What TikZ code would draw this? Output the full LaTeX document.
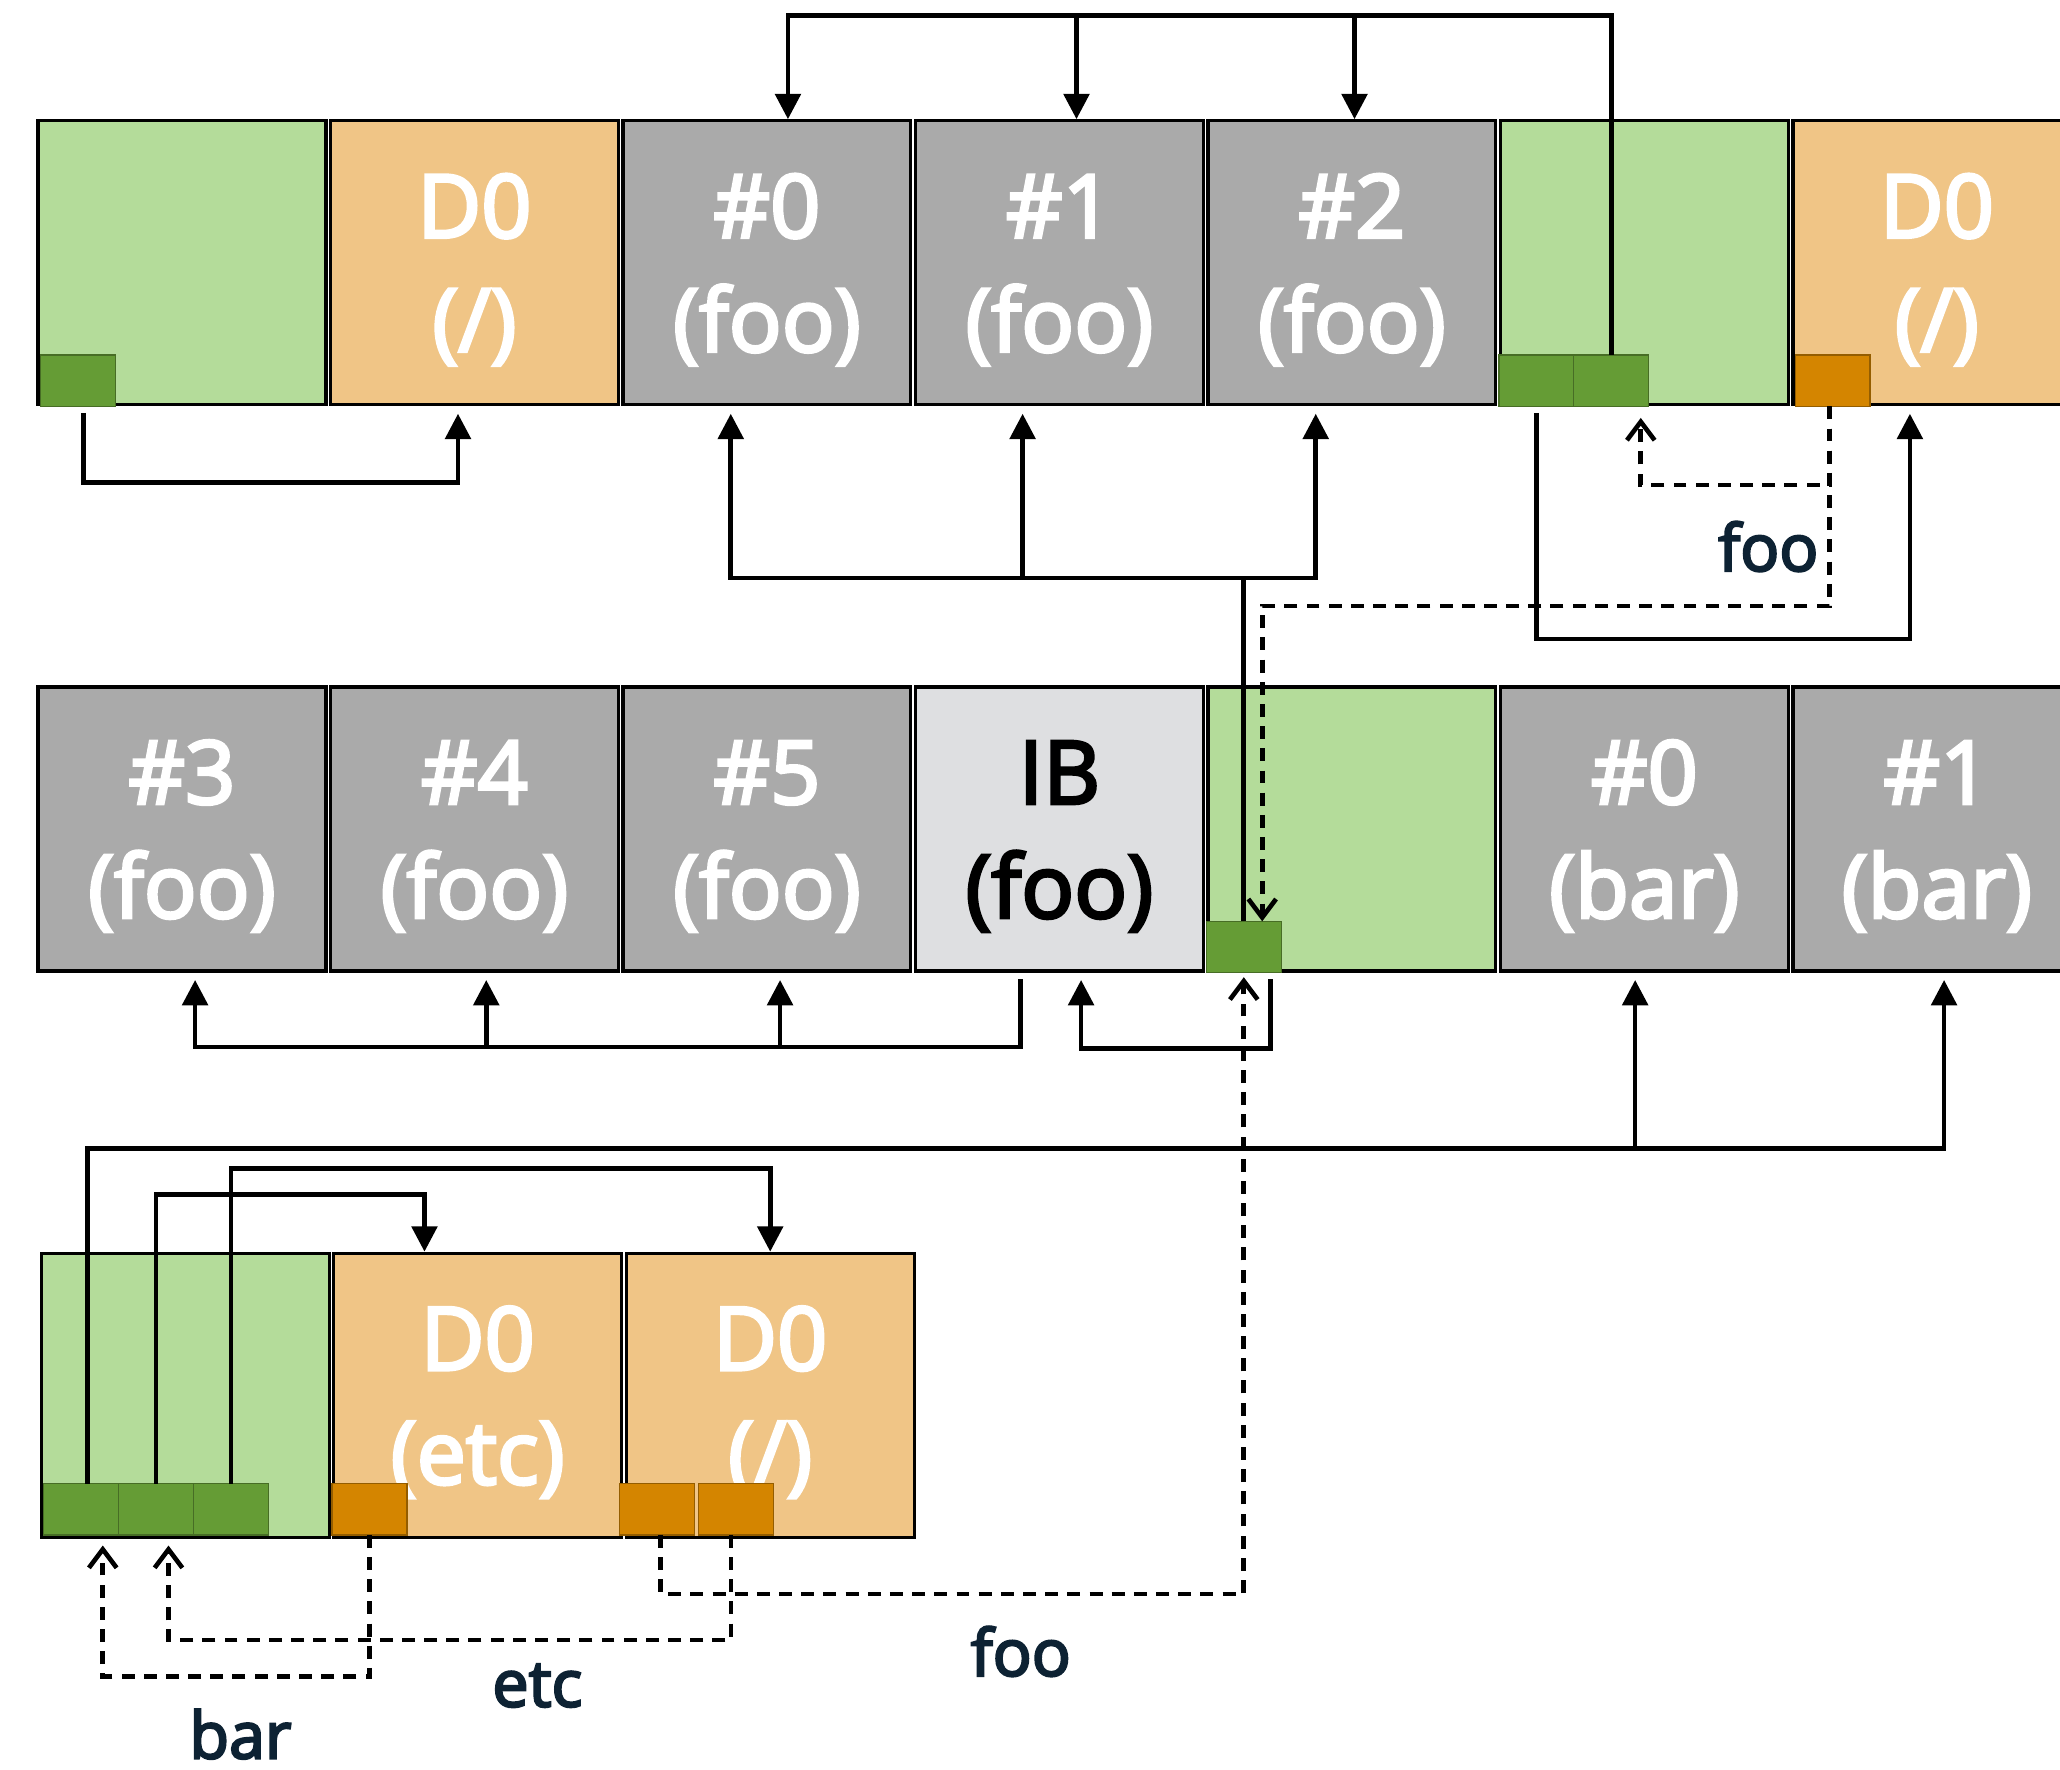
\documentclass[tikz,border=0pt]{standalone}
\usepackage{fontspec}
\setmainfont{Open Sans}
\newfontfamily\semifont{Open Sans}[FakeBold=3.5]
\usetikzlibrary{arrows.meta}

\definecolor{lgreen}{HTML}{B4DC9A}
\definecolor{dgreen}{HTML}{659C35}
\definecolor{lorange}{HTML}{F0C586}
\definecolor{dorange}{HTML}{D48500}
\definecolor{blkgray}{HTML}{AAAAAA}
\definecolor{ibgray}{HTML}{DEDFE1}
\definecolor{navy}{HTML}{0D2233}

\newcommand{\boxfont}{\semifont\fontsize{19}{24.7}\selectfont}
\newcommand{\lblfont}{\semifont\fontsize{14}{17}\selectfont}
\newcommand{\blktext}[2]{\rule{0pt}{16.8pt}#1\\#2}

\begin{document}
\begin{tikzpicture}[x=0.01cm,y=-0.01cm,->,>={Triangle[length=5.5pt,width=5.5pt]},line width=1pt,node distance=2.225cm]
		\tikzstyle{blk}=[draw=black,line width=0.7pt,minimum width=2.19cm,minimum height=2.16cm,inner sep=0pt,align=center,text=white,font=\boxfont]
		\tikzstyle{grn}=[blk,fill=lgreen]
		\tikzstyle{org}=[blk,fill=lorange]
		\tikzstyle{gry}=[blk,fill=blkgray]
		\tikzstyle{ibx}=[blk,fill=ibgray,text=black]
		\tikzstyle{sq}=[line width=0.3pt,minimum width=0.57cm,minimum height=0.39cm,inner sep=0pt,outer sep=0pt,anchor=south west]
		\tikzstyle{gsq}=[sq,draw=dgreen!70!black,fill=dgreen]
		\tikzstyle{osq}=[sq,draw=dorange!70!black,fill=dorange]
		\tikzstyle{up}=[shorten >=1.6pt]
		\tikzstyle{ref}=[-{Straight Barb[length=4pt,width=6pt]},dash pattern=on 2.8pt off 2pt]
		\tikzstyle{lbl}=[font=\lblfont,text=navy]
		\useasboundingbox (0,0) rectangle (1568,1347);
		% first row
		\node[grn] (g1) at (138.5,200) {};
		\node[org] (d1) [right of=g1] {\blktext{D0}{(/)}};
		\node[gry] (f0) [right of=d1] {\blktext{\#0}{(foo)}};
		\node[gry] (f1) [right of=f0] {\blktext{\#1}{(foo)}};
		\node[gry] (f2) [right of=f1] {\blktext{\#2}{(foo)}};
		\node[grn] (g2) [right of=f2] {};
		\node[org] (d2) [right of=g2] {\blktext{D0}{(/)}};
		% second row
		\node[gry] (f3) at (138.5,631) {\blktext{\#3}{(foo)}};
		\node[gry] (f4) [right of=f3] {\blktext{\#4}{(foo)}};
		\node[gry] (f5) [right of=f4] {\blktext{\#5}{(foo)}};
		\node[ibx] (ib) [right of=f5] {\blktext{IB}{(foo)}};
		\node[grn] (g3) [right of=ib] {};
		\node[gry] (b0) [right of=g3] {\blktext{\#0}{(bar)}};
		\node[gry] (b1) [right of=b0] {\blktext{\#1}{(bar)}};
		% third row
		\node[grn] (g4) at (141,1062) {};
		\node[org] (de) [right of=g4] {\blktext{D0}{(etc)}};
		\node[org] (d3) [right of=de] {\blktext{D0}{(/)}};
		% small entries
		\node[gsq,xshift=0.03cm] (s1) at (g1.south west) {};
		\node[gsq] (s2a) at (g2.south west) {};
		\node[gsq] (s2b) at (s2a.south east) {};
		\node[osq,xshift=0.03cm] (o1) at (d2.south west) {};
		\node[gsq] (s3) at (g3.south west) {};
		\node[gsq,xshift=0.03cm,yshift=0.03cm] (s4a) at (g4.south west) {};
		\node[gsq] (s4b) at (s4a.south east) {};
		\node[gsq] (s4c) at (s4b.south east) {};
		\node[osq,yshift=0.03cm] (o2) at (de.south west) {};
		\node[osq,xshift=-0.04cm,yshift=0.03cm] (o3a) at (d3.south west) {};
		\node[osq,xshift=0.03cm] (o3b) at (o3a.south east) {};
		% bus levels
		\coordinate (busA) at (0,12);
		\coordinate (busB) at (0,440);
		\coordinate (busC) at (0,797);
		\coordinate (busD) at (0,874);
		% solid links
		\draw (s2b.north) -- (s2b.north |- busA) -| ([xshift=0.16cm]f0.north);
		\draw ([xshift=0.13cm]f1.north |- busA) -- ([xshift=0.13cm]f1.north);
		\draw ([xshift=0.02cm]f2.north |- busA) -- ([xshift=0.02cm]f2.north);
		\draw[up,shorten <=1.4pt] ([xshift=0.045cm]s1.south) -- ++(0,58) -| ([xshift=-0.125cm]d1.south);
		\draw[up] (s3.north) -- (s3.north |- busB) -| ([xshift=-0.275cm]f2.south);
		\draw[up] (s3.north |- busB) -| ([xshift=-0.275cm]f0.south);
		\draw[up] ([xshift=-0.28cm]f1.south |- busB) -- ([xshift=-0.28cm]f1.south);
		\draw[up,shorten <=1.4pt] (s2a.south) -- ++(0,177) -| ([xshift=-0.205cm]d2.south);
		\draw[up,shorten <=1.4pt] ([xshift=-0.295cm]ib.south) -- ([xshift=-0.295cm]ib.south |- busC) -| ([xshift=0.1cm]f3.south);
		\draw[up] ([xshift=0.09cm]f4.south |- busC) -- ([xshift=0.09cm]f4.south);
		\draw[up] ([xshift=0.1cm]f5.south |- busC) -- ([xshift=0.1cm]f5.south);
		\draw[up,shorten <=1.4pt] ([xshift=0.205cm]s3.south) -- ++(0,58) -| ([xshift=0.165cm]ib.south);
		\draw[up] ([xshift=0.05cm]s4a.north) -- ([xshift=0.05cm]s4a.north |- busD) -| ([xshift=0.055cm]b1.south);
		\draw[up] ([xshift=-0.07cm]b0.south |- busD) -- ([xshift=-0.07cm]b0.south);
		\draw (s4b.north) -- ++(0,-220) -| ([xshift=-0.405cm]de.north);
		\draw (s4c.north) -- ++(0,-240) -| (d3.north);
		% directory entries
		\draw[ref,shorten >=2.5pt] ([xshift=-0.025cm]o1.south) -- ++(0,60) -| ([xshift=0.225cm]s2b.south);
		\draw[ref] ([xshift=-0.025cm]o1.south) -- ++(0,152) -| ([xshift=0.14cm]s3.north);
		\draw[ref,shorten >=1pt] ([xshift=0.03cm]o3a.south) -- ++(0,45) -| (s3.south);
		\draw[ref,shorten >=2.3pt] ([xshift=-0.035cm]o3b.south) -- ++(0,80) -| ([xshift=0.095cm]s4b.south);
		\draw[ref,shorten >=2.3pt] (o2.south) -- ++(0,108) -| ([xshift=0.165cm]s4a.south);
		\node[lbl] (n1) at (1346,416) {foo};
		\node[lbl] (n2) at (777,1257) {foo};
		\node[lbl] (n3) at (409,1283) {etc};
		\node[lbl] (n4) at (183,1320) {bar};
\end{tikzpicture}
\end{document}
